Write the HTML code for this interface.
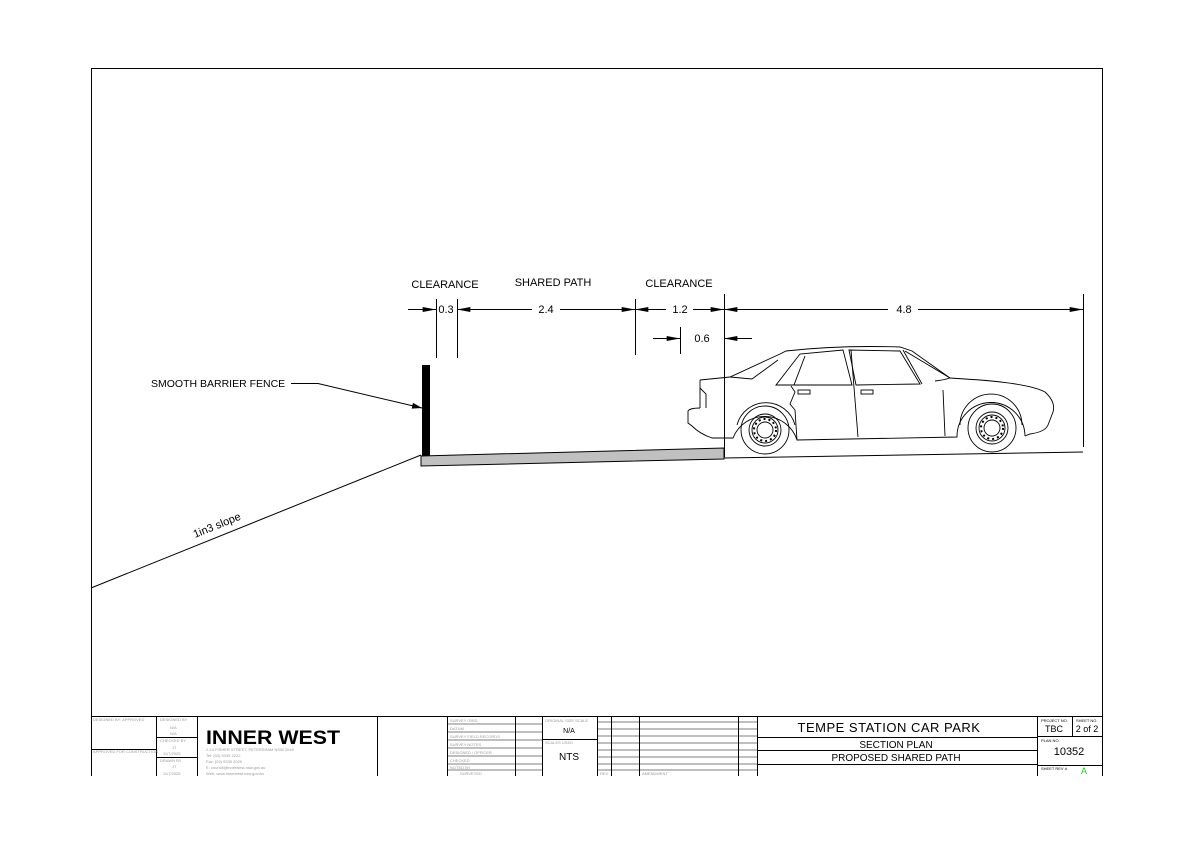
<!DOCTYPE html>
<html><head><meta charset="utf-8"><style>
html,body{margin:0;padding:0;background:#fff;}
svg{display:block;font-family:"Liberation Sans",Arial,sans-serif;}
</style></head><body>
<svg width="1194" height="845" viewBox="0 0 1194 845" xmlns="http://www.w3.org/2000/svg">
<defs>
<marker id="a" viewBox="0 0 10 6" refX="10" refY="3" markerWidth="10" markerHeight="6" markerUnits="userSpaceOnUse" orient="auto"><path d="M0,0L10,3L0,6z" fill="#000"/></marker>
<marker id="b" viewBox="0 0 16 6" refX="16" refY="3" markerWidth="16" markerHeight="5" markerUnits="userSpaceOnUse" orient="auto"><path d="M0,0L16,3L0,6z" fill="#000"/></marker>
</defs>
<rect x="0" y="0" width="1194" height="845" fill="#fff"/>
<path d="M91.5,776V68.5H1102.5V776" fill="none" stroke="#000" stroke-width="1"/>

<g font-size="11" fill="#000">
<text x="445" y="288" text-anchor="middle">CLEARANCE</text>
<text x="553" y="286" text-anchor="middle">SHARED PATH</text>
<text x="679" y="287" text-anchor="middle">CLEARANCE</text>
<text x="446" y="313" text-anchor="middle">0.3</text>
<text x="546" y="313" text-anchor="middle">2.4</text>
<text x="680" y="313" text-anchor="middle">1.2</text>
<text x="904" y="313" text-anchor="middle">4.8</text>
<text x="702" y="342" text-anchor="middle">0.6</text>
<text x="151" y="387" font-size="10.5">SMOOTH BARRIER FENCE</text>
<text x="0" y="0" transform="translate(195,538) rotate(-22)">1in3 slope</text>
</g>
<g stroke="#000" stroke-width="1" fill="none">
<line x1="436.5" y1="299" x2="436.5" y2="358"/>
<line x1="457.5" y1="299" x2="457.5" y2="358"/>
<line x1="635.5" y1="299" x2="635.5" y2="355"/>
<line x1="680.5" y1="327" x2="680.5" y2="354"/>
<line x1="724.5" y1="294" x2="724.5" y2="457"/>
<line x1="1083.5" y1="294" x2="1083.5" y2="447"/>
<line x1="408" y1="309.5" x2="436" y2="309.5" marker-end="url(#b)"/>
<line x1="485" y1="309.5" x2="457" y2="309.5" marker-end="url(#b)"/>
<line x1="485" y1="309.5" x2="532" y2="309.5"/>
<line x1="560" y1="309.5" x2="635" y2="309.5" marker-end="url(#b)"/>
<line x1="666" y1="309.5" x2="635" y2="309.5" marker-end="url(#b)"/>
<line x1="693" y1="309.5" x2="724" y2="309.5" marker-end="url(#b)"/>
<line x1="888" y1="309.5" x2="724" y2="309.5" marker-end="url(#b)"/>
<line x1="918" y1="309.5" x2="1083" y2="309.5" marker-end="url(#b)"/>
<line x1="653" y1="338.5" x2="680" y2="338.5" marker-end="url(#b)"/>
<line x1="752" y1="338.5" x2="724" y2="338.5" marker-end="url(#b)"/>
<polyline points="291,383.5 318,383.5 422,408" marker-end="url(#a)"/>
<line x1="91" y1="588" x2="421" y2="455"/>
<line x1="724" y1="458" x2="1083" y2="452"/>
</g>
<rect x="422" y="365" width="8" height="100" fill="#000"/>
<polygon points="421,456 724,448 724,459 421,466" fill="#c0c0c0" stroke="#000" stroke-width="1"/>

<g stroke="#000" stroke-width="0.9" fill="none">
<path d="M700,380 L730,377 L780,354 L786,351 Q840,345 900,347 L912,351 L950,378 L980,380 Q1030,384 1045,392 Q1056,402 1053,412 L1048,425 Q1045,432 1030,434 L1025,436"/>
<path d="M1025,436 A34,34 0 0 0 957,437 L797,440 A34,34 0 0 0 733,438 L712,438 Q700,434 692,426 L688,423 L688,411 Q690,408 700,408"/>
<path d="M700,380 L700,408"/>
<path d="M700,388 L706,394 L706,408"/>
<path d="M730,377 L752,379 L778,360"/>
<path d="M776,385 L800,354 L843,350 L852,385 Z"/>
<path d="M794,385 L805,356"/>
<path d="M849,350 L856,385 L920,384 L900,351 Z"/>
<path d="M851,350 L858,437"/>
<path d="M903,350 L922,384"/>
<path d="M905,351 L950,378 Q944,380 935,381"/>
<path d="M791,386 L795,392 L790,404 L795,410 L797,440"/>
<path d="M943,390 L945,436"/>
<rect x="798" y="390" width="12" height="4"/>
<rect x="861" y="390" width="12" height="4"/>
<path d="M737,425 A30,30 0 0 1 795,425"/>
<path d="M960,425 A30,30 0 0 1 1022,425"/>
<circle cx="765" cy="430" r="24"/>
<circle cx="765" cy="430" r="16"/>
<circle cx="765" cy="430" r="13"/>
<circle cx="765" cy="430" r="8"/>
<circle cx="992" cy="428" r="24"/>
<circle cx="992" cy="428" r="16"/>
<circle cx="992" cy="428" r="13"/>
<circle cx="992" cy="428" r="8"/>
</g>
<g fill="none" stroke="#000" stroke-width="2" stroke-dasharray="2 3">
<circle cx="765" cy="430" r="11"/>
<circle cx="992" cy="428" r="11"/>
</g>

<g stroke="#000" stroke-width="1" fill="none">
<line x1="91" y1="716.5" x2="1103" y2="716.5"/>
<line x1="156.5" y1="716" x2="156.5" y2="776"/>
<line x1="197.5" y1="716" x2="197.5" y2="776"/>
<line x1="377.5" y1="716" x2="377.5" y2="776"/>
<line x1="447.5" y1="716" x2="447.5" y2="776"/>
<line x1="515.5" y1="716" x2="515.5" y2="776"/>
<line x1="542.5" y1="716" x2="542.5" y2="776"/>
<line x1="597.5" y1="716" x2="597.5" y2="776"/>
<line x1="611.5" y1="716" x2="611.5" y2="776"/>
<line x1="639.5" y1="716" x2="639.5" y2="776"/>
<line x1="738.5" y1="716" x2="738.5" y2="776"/>
<line x1="757.5" y1="716" x2="757.5" y2="776"/>
<line x1="1037.5" y1="716" x2="1037.5" y2="776"/>
<line x1="1072.5" y1="716" x2="1072.5" y2="736"/>
<line x1="91" y1="749.5" x2="156" y2="749.5"/>
<line x1="156" y1="737.5" x2="197" y2="737.5"/>
<line x1="156" y1="757.5" x2="197" y2="757.5"/>
<line x1="542" y1="739.5" x2="597" y2="739.5"/>
<line x1="757" y1="737.5" x2="1037" y2="737.5"/>
<line x1="757" y1="750.5" x2="1037" y2="750.5"/>
<line x1="757" y1="764.5" x2="1037" y2="764.5"/>
<line x1="1037" y1="736.5" x2="1103" y2="736.5"/>
<line x1="1037" y1="765.5" x2="1103" y2="765.5"/>
</g>
<g stroke="#000" stroke-width="0.6">
<line x1="447" y1="724" x2="542" y2="724"/><line x1="447" y1="732" x2="542" y2="732"/>
<line x1="447" y1="740" x2="542" y2="740"/><line x1="447" y1="748" x2="542" y2="748"/>
<line x1="447" y1="756" x2="542" y2="756"/><line x1="447" y1="764" x2="542" y2="764"/>
<line x1="447" y1="770" x2="542" y2="770"/>
<line x1="597" y1="722" x2="738" y2="722"/><line x1="597" y1="729" x2="738" y2="729"/>
<line x1="597" y1="736" x2="738" y2="736"/><line x1="597" y1="743" x2="738" y2="743"/>
<line x1="597" y1="750" x2="738" y2="750"/><line x1="597" y1="757" x2="738" y2="757"/>
<line x1="597" y1="764" x2="738" y2="764"/><line x1="597" y1="770" x2="738" y2="770"/>
<line x1="738" y1="722" x2="757" y2="722"/><line x1="738" y1="729" x2="757" y2="729"/>
<line x1="738" y1="736" x2="757" y2="736"/><line x1="738" y1="743" x2="757" y2="743"/>
<line x1="738" y1="750" x2="757" y2="750"/><line x1="738" y1="757" x2="757" y2="757"/>
<line x1="738" y1="764" x2="757" y2="764"/><line x1="738" y1="770" x2="757" y2="770"/>
</g>
<g font-size="4" fill="#999">
<text x="93" y="721">DESIGNED BY: APPROVED</text>
<text x="93" y="753">APPROVED FOR CONSTRUCTION</text>
<text x="160" y="721">DESIGNED BY</text><text x="170" y="729">N/A</text><text x="170" y="735">N/A</text>
<text x="160" y="742">CHECKED BY</text><text x="172" y="749">JT</text><text x="163" y="755">11/7/2025</text>
<text x="160" y="762">DRAWN BY</text><text x="172" y="768">JT</text><text x="163" y="775">11/7/2025</text>
<text x="206" y="751">2-14 FISHER STREET, PETERSHAM NSW 2049</text>
<text x="206" y="757">Tel: (02) 9335 2222</text>
<text x="206" y="763">Fax: (02) 9335 2029</text>
<text x="206" y="769">E: council@innerwest.nsw.gov.au</text>
<text x="206" y="775">Web: www.innerwest.nsw.gov.au</text>
<text x="450" y="722">SURVEY GRID</text><text x="450" y="730">DATUM</text>
<text x="450" y="738">SURVEY FIELD RECORDS</text><text x="450" y="746">SURVEY NOTES</text>
<text x="450" y="754">DESIGNED / OFFICER</text><text x="450" y="762">CHECKED</text>
<text x="450" y="769">NOTED BY</text><text x="460" y="775">SURVEYED</text>
<text x="545" y="722">ORIGINAL SIZE SCALE</text><text x="545" y="744">SCALES USED</text>
<text x="600" y="775">REV</text><text x="642" y="775">AMENDMENT</text>
</g>
<text x="206" y="744" font-family="Liberation Sans,sans-serif" font-weight="bold" font-size="19" fill="#000" textLength="134" lengthAdjust="spacingAndGlyphs">INNER WEST</text>
<g fill="#000">
<text x="569" y="733" font-size="7" text-anchor="middle">N/A</text>
<text x="569" y="760" font-size="10" text-anchor="middle">NTS</text>
<text x="889" y="732" font-size="13" text-anchor="middle" letter-spacing="0.5">TEMPE STATION CAR PARK</text>
<text x="896" y="748" font-size="10" text-anchor="middle">SECTION PLAN</text>
<text x="896" y="761" font-size="10" text-anchor="middle">PROPOSED SHARED PATH</text>
<text x="1041" y="722" font-size="4">PROJECT NO.</text>
<text x="1076" y="722" font-size="4">SHEET NO.</text>
<text x="1054" y="732" font-size="9" text-anchor="middle">TBC</text>
<text x="1087" y="732" font-size="9" text-anchor="middle">2 of 2</text>
<text x="1041" y="742" font-size="4">PLAN NO.</text>
<text x="1069" y="755" font-size="11" text-anchor="middle">10352</text>
<text x="1041" y="770" font-size="4">SHEET REV #</text>
<text x="1084" y="774" font-size="9" fill="#2c2" text-anchor="middle">A</text>
</g>
</svg>
</body></html>
